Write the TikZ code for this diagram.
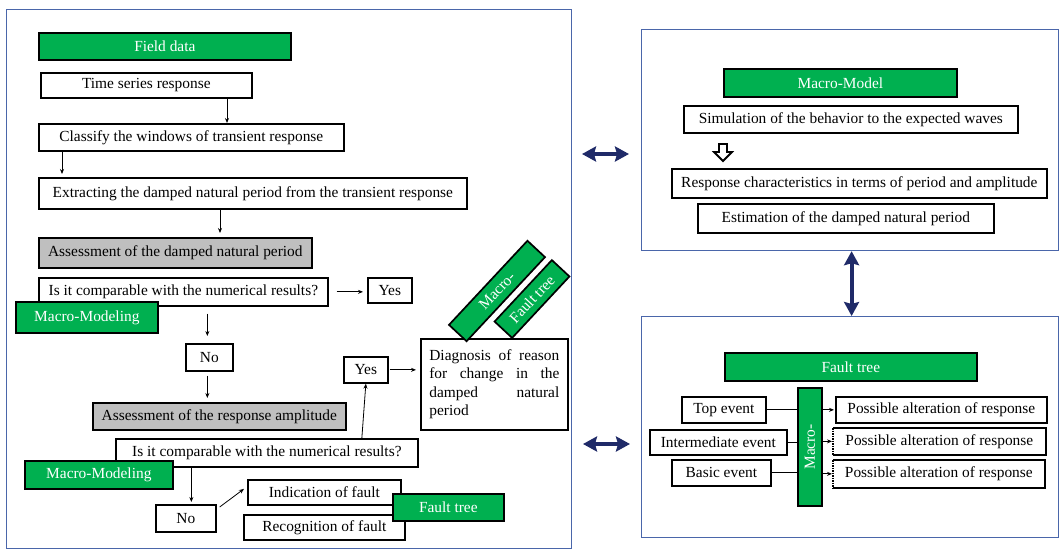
\documentclass[tikz,border=0pt]{standalone}
\usepackage{fontspec}
\setmainfont{Liberation Serif}
\usetikzlibrary{arrows.meta}

\definecolor{boxgreen}{HTML}{00B050}
\definecolor{boxgray}{HTML}{BFBFBF}
\definecolor{panelblue}{HTML}{4A66AA}
\definecolor{arrownavy}{HTML}{1F2A68}

\hyphenpenalty=10000
\exhyphenpenalty=10000
\tolerance=9999

\tikzset{
  sz/.style 2 args={minimum width=#1pt, minimum height=#2pt},
  plain/.style={draw, line width=1.7pt, fill=white, anchor=north west, inner sep=0pt,
    font=\fontsize{15.4}{18.3}\selectfont},
  greenbox/.style={plain, fill=boxgreen, text=white},
  graybox/.style={plain, fill=boxgray},
  panel/.style={draw=panelblue, line width=1.2pt, anchor=north west, inner sep=0pt},
  arr/.style={-{Stealth[length=5pt,width=4pt]}, line width=0.8pt},
  dbl/.style={{Stealth[length=14pt,width=15pt,inset=2pt]}-{Stealth[length=14pt,width=15pt,inset=2pt]},
    line width=4pt, arrownavy},
}

\begin{document}
\begin{tikzpicture}[x=1pt,y=-1pt]
\useasboundingbox (0,0) rectangle (1060,549);

% === Left panel ===
\node[panel, sz={565}{539}] (lpanel) at (6,9) {};

% boxes
\node[greenbox, sz={252}{27}] (fd) at (38,32) {Field data};
\node[plain, sz={211}{25}] (tsr) at (40,72) {Time series response};
\node[plain, sz={305}{27}] (cls) at (38,123) {Classify the windows of transient response};
\node[plain, sz={428}{31}] (ext) at (38,177) {Extracting the damped natural period from the transient response};
\node[graybox, sz={273}{30}] (ass1) at (38,237) {Assessment of the damped natural period};
\node[plain, sz={289}{28}] (q1) at (38,277) {Is it comparable with the numerical results?};
\node[plain, sz={44}{25}] (yes1) at (367,277) {Yes};
\node[greenbox, sz={142}{31}] (mm1) at (15,301) {Macro-Modeling};
\node[plain, sz={47}{27}] (no1) at (185,343) {No};
\node[graybox, sz={253}{27}] (ampl) at (92,402) {Assessment of the response amplitude};
\node[plain, sz={302}{28}] (q2) at (115,438) {Is it comparable with the numerical results?};
\node[greenbox, sz={148}{28}] (mm2) at (24,460) {Macro-Modeling};
\node[plain, sz={44}{26}] (yes2) at (343,356) {Yes};
\node[plain, sz={147}{91}, text width=130pt, inner xsep=8.5pt, align=justify]
  (diag) at (420,338) {Diagnosis of reason for change in the damped natural period};
\node[plain, sz={60}{27}] (no2) at (155,504) {No};
\node[plain, sz={153}{25}] (ind) at (247,479) {Indication of fault};
\node[plain, sz={161}{25}] (rec) at (243,514) {Recognition of fault};
\node[greenbox, sz={111}{27}] (ft1) at (392,493) {Fault tree};
\node[greenbox, anchor=center, rotate=47, sz={115}{24}] (rmac) at (497,291) {Macro-};
\node[greenbox, anchor=center, rotate=47, sz={84}{24}] (rft) at (532,299) {Fault tree};

% arrows
\draw[arr] ([xshift=187pt]tsr.south west) -- ([xshift=187pt]tsr.south west |- cls.north);
\draw[arr, shorten >=3pt] ([xshift=24pt]cls.south west) -- ([xshift=24pt]cls.south west |- ext.north);
\draw[arr, shorten >=4pt] ([xshift=182pt]ext.south west) -- ([xshift=182pt]ext.south west |- ass1.north);
\draw[arr, shorten <=8pt, shorten >=4pt] (q1.east) -- (q1.east -| yes1.west);
\draw[arr, shorten <=7pt, shorten >=7pt] ([xshift=-2pt]no1.north |- q1.south) -- ([xshift=-2pt]no1.north);
\draw[arr, shorten <=4pt, shorten >=4pt] ([xshift=-2pt]no1.south) -- ([xshift=-2pt]no1.south |- ampl.north);
\draw[arr] ([xshift=-4pt]yes2.south |- q2.north) -- (yes2.south);
\draw[arr, shorten <=1pt, shorten >=4pt] (yes2.east) -- (yes2.east -| diag.west);
\draw[arr, shorten >=2pt] ([xshift=5.5pt]no2.north |- q2.south) -- ([xshift=5.5pt]no2.north);
\draw[arr] ([xshift=3pt,yshift=-3pt]no2.north east) -- ([xshift=-3pt,yshift=3.5pt]ind.west);

% === Macro-Model panel ===
\node[panel, sz={417}{221}] (tpanel) at (641,29) {};
\node[greenbox, sz={233}{28}] (mmod) at (723,68) {Macro-Model};
\node[plain, sz={334}{27}] (sim) at (683,105) {Simulation of the behavior to the expected waves};
\node[plain, sz={375}{29}] (resp) at (671,168) {Response characteristics in terms of period and amplitude};
\node[plain, sz={296}{29}] (est) at (697,203) {Estimation of the damped natural period};
% hollow arrow
\coordinate (hol) at (723,144);
\draw[line width=1.8pt, fill=white] ([xshift=-4pt]hol) -- ++(8,0) -- ++(0,8) -- ++(5,0)
  -- ++(-9,9) -- ++(-9,-9) -- ++(5,0) -- cycle;

% === Fault tree panel ===
\node[panel, sz={417}{221}] (bpanel) at (641,316) {};
\node[greenbox, sz={252}{28}] (ftr) at (724,352) {Fault tree};
\node[plain, sz={84}{26}] (topev) at (681,396) {Top event};
\node[plain, sz={137}{25}] (midev) at (649,429) {Intermediate event};
\node[plain, sz={99}{26}] (basev) at (671,459) {Basic event};
\node[greenbox, anchor=center, rotate=90, sz={118}{24}] (mbar) at (810,447) {Macro-};
\node[plain, sz={211}{26}] (alt1) at (835,396) {Possible alteration of response};
\node[plain, draw=none, sz={211}{25}] (alt2) at (833,428) {Possible alteration of response};
\node[plain, draw=none, sz={210}{26}] (alt3) at (833,460) {Possible alteration of response};
\draw[line width=1.7pt] (alt2.south west) -- (alt2.south east) -- (alt2.north east) -- (alt2.north west);
\draw[line width=1.5pt, densely dotted] (alt2.north west) -- (alt2.south west);
\draw[line width=1.7pt] (alt3.north west) -- (alt3.north east) -- (alt3.south east) -- (alt3.south west);
\draw[line width=1.5pt, densely dotted] (alt3.north west) -- (alt3.south west);

% links
\draw[line width=0.8pt] (topev.east) -- (topev.east -| mbar.north);
\draw[line width=0.8pt] (midev.east) -- (midev.east -| mbar.north);
\draw[line width=0.8pt] (basev.east) -- (basev.east -| mbar.north);
\draw[arr, shorten >=1pt] (alt1.west -| mbar.south) -- (alt1.west);
\draw[arr, shorten >=1pt] (alt2.west -| mbar.south) -- (alt2.west);
\draw[arr, shorten >=1pt] (alt3.west -| mbar.south) -- (alt3.west);

% === Panel links ===
\coordinate (la) at (582,154);
\coordinate (lb) at (629,154);
\coordinate (lc) at (583,444);
\coordinate (ld) at (630,444);
\draw[dbl] (la) -- (lb);
\draw[dbl] (lc) -- (ld);
\draw[dbl] ([xshift=1.5pt]tpanel.south) -- ([xshift=1.5pt]bpanel.north);

\end{tikzpicture}
\end{document}
